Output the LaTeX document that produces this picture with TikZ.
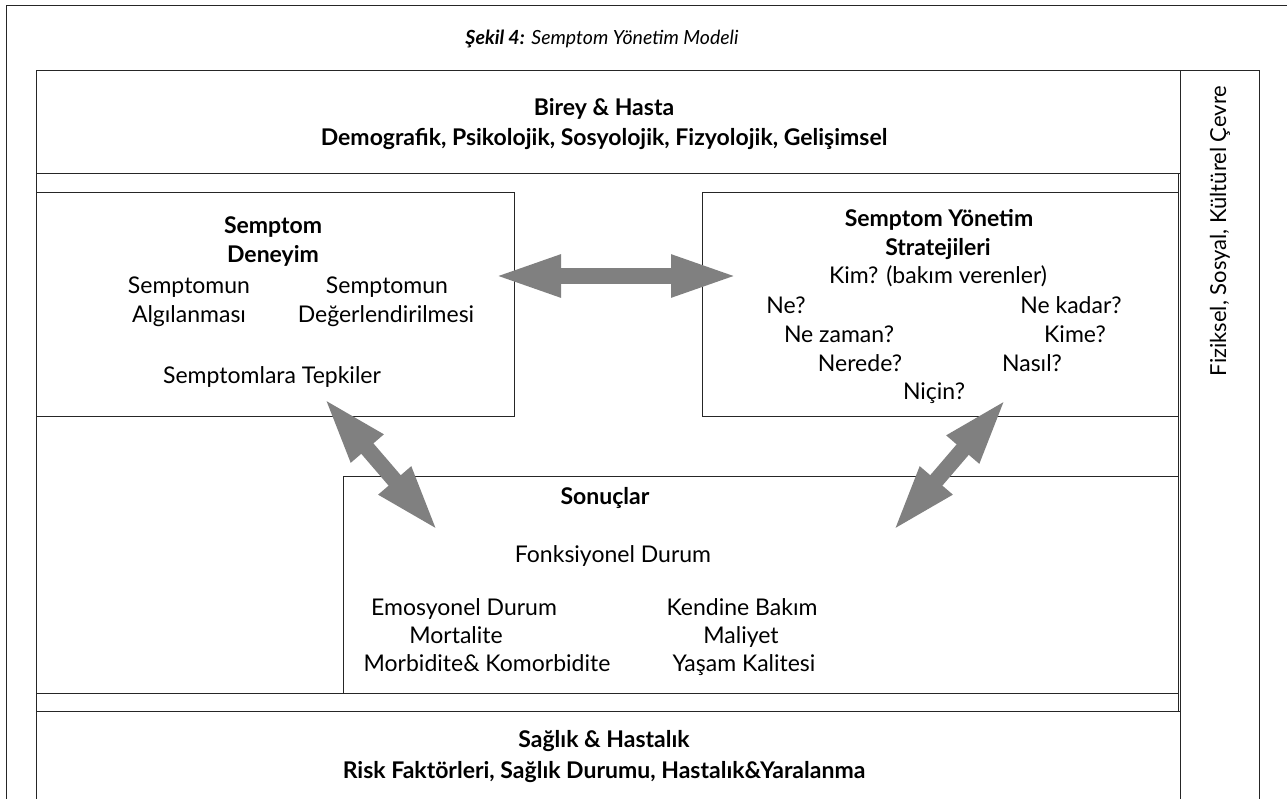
\documentclass[tikz,border=0pt]{standalone}
\usepackage{fontspec}
\setmainfont{Lato}
\usetikzlibrary{calc}
\usetikzlibrary{arrows.meta}

\begin{document}
\begin{tikzpicture}[x=1pt,y=-1pt]
        \tikzset{kutu/.style={draw=black!85,line width=1pt},
          baslik/.style={anchor=base,font=\fontsize{23}{27}\selectfont\bfseries},
          yazi/.style={anchor=base,font=\fontsize{23}{27}\selectfont},
          ciftok/.style={draw=black!50,line width=16pt,{Triangle[length=68pt 0,width=38pt 0]}-{Triangle[length=68pt 0,width=38pt 0]}}}
        
        \clip (0,0) rectangle (1287,799);
        \fill[white] (0,0) rectangle (1287,799);
        
        \coordinate (cerceve) at (6,6);
        \coordinate (sol_ust) at (36,71);
        \coordinate (birey_alt) at (1180,174);
        \coordinate (orta_ust) at (36,174);
        \coordinate (orta_alt) at (1178,693);
        \coordinate (serit_alt) at (1178,711);
        \coordinate (saglik_ust) at (36,711);
        \coordinate (cevre_ust) at (1180,71);
        
        %dis cerceve
        \draw[kutu] (cerceve) rectangle (1300,820);
        
        \draw[kutu] (sol_ust) rectangle (birey_alt);
        \draw[kutu] (orta_ust) rectangle (orta_alt);
        \draw[kutu] (36,693) rectangle (serit_alt);
        \draw[kutu] (saglik_ust) rectangle (1180,820);
        \draw[kutu] (cevre_ust) rectangle (1259,820);
        
        %ic kutular
        \draw[kutu] (36,193) rectangle (514,416);
        \draw[kutu] (702,193) rectangle (1178,416);
        \draw[kutu] (343,476) rectangle (1178,693);
        
        %baslik
        \node[anchor=base,font=\fontsize{19.5}{23}\selectfont] (sekil) at (602,45) {\textbf{\textit{Şekil 4:}} \textit{Semptom Yönetim Modeli}};
        
        %Birey & Hasta
        \node[baslik] (birey) at (604,116) {Birey \& Hasta};
        \node[baslik] (birey_alt_yazi) at (604,146) {Demografik, Psikolojik, Sosyolojik, Fizyolojik, Gelişimsel};
        
        %Semptom Deneyim
        \node[baslik] (deneyim1) at (273,234) {Semptom};
        \node[baslik] (deneyim2) at (273,263) {Deneyim};
        \node[yazi] (algi1) at (189,294) {Semptomun};
        \node[yazi] (algi2) at (189,323) {Algılanması};
        \node[yazi] (deger1) at (387,294) {Semptomun};
        \node[yazi] (deger2) at (386,323) {Değerlendirilmesi};
        \node[yazi] (tepki) at (272,383) {Semptomlara Tepkiler};
        
        %Semptom Yonetim Stratejileri
        \node[baslik] (yonetim1) at (939,227) {Semptom Yönetim};
        \node[baslik] (yonetim2) at (938,256) {Stratejileri};
        \node[yazi] (kim) at (938,284) {Kim? (bakım verenler)};
        \node[yazi] (ne) at (786,314) {Ne?};
        \node[yazi] (nekadar) at (1071,314) {Ne kadar?};
        \node[yazi] (nezaman) at (839,343) {Ne zaman?};
        \node[yazi] (kime) at (1075,343) {Kime?};
        \node[yazi] (nerede) at (860,371) {Nerede?};
        \node[yazi] (nasil) at (1032,371) {Nasıl?};
        \node[yazi] (nicin) at (934,399) {Niçin?};
        
        %Sonuclar
        \node[baslik] (sonuclar) at (605,504) {Sonuçlar};
        \node[yazi] (fonksiyonel) at (613,562) {Fonksiyonel Durum};
        \node[yazi] (emosyonel) at (464,615) {Emosyonel Durum};
        \node[yazi] (kendine) at (742,615) {Kendine Bakım};
        \node[yazi] (mortalite) at (456,643) {Mortalite};
        \node[yazi] (maliyet) at (741,643) {Maliyet};
        \node[yazi] (morbidite) at (487,671) {Morbidite\& Komorbidite};
        \node[yazi] (yasam) at (744,671) {Yaşam Kalitesi};
        
        %Saglik & Hastalik
        \node[baslik] (saglik) at (604,747) {Sağlık \& Hastalık};
        \node[baslik] (risk) at (604,778) {Risk Faktörleri, Sağlık Durumu, Hastalık\&Yaralanma};
        
        %cevre
        \node[rotate=90,font=\fontsize{22}{26}\selectfont] (cevre) at (1220,231) {Fiziksel, Sosyal, Kültürel Çevre};
        
        %oklar
        \coordinate (ok1_sol) at (493,276);
        \coordinate (ok1_sag) at (739,276);
        \coordinate (ok2_ust) at (323,397);
        \coordinate (ok2_alt) at (439,532);
        \coordinate (ok3_ust) at (1007,398);
        \coordinate (ok3_alt) at (892,532);
        \draw[ciftok] (ok1_sol) -- (ok1_sag);
        \draw[ciftok] (ok2_ust) -- (ok2_alt);
        \draw[ciftok] (ok3_ust) -- (ok3_alt);
\end{tikzpicture}
\end{document}
